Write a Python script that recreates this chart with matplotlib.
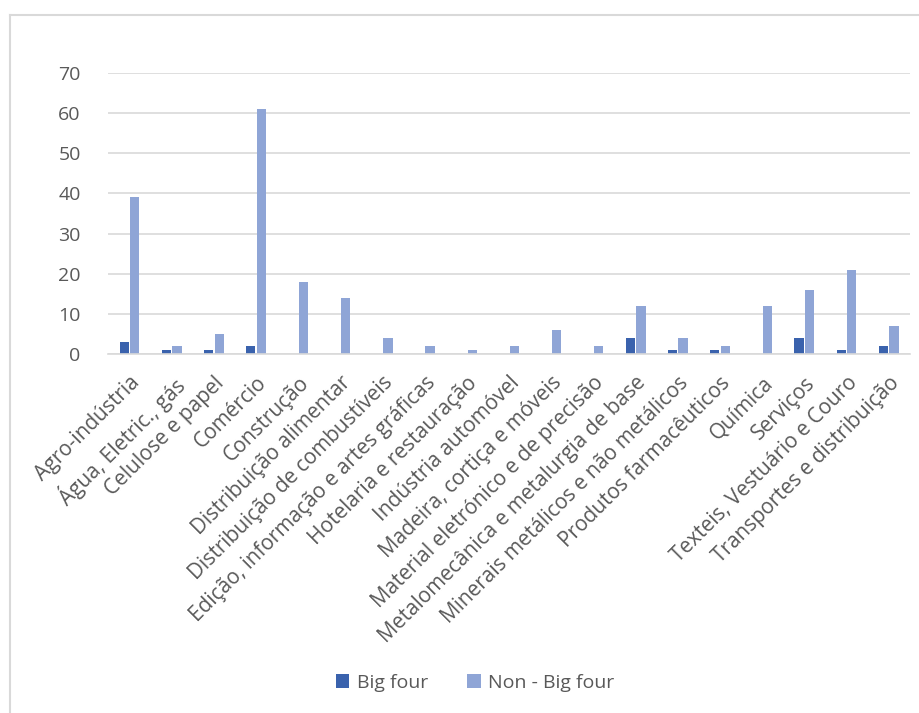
import numpy as np
import matplotlib.pyplot as plt
from matplotlib.lines import Line2D

# setores de atividade
setores = [
    "Agro-indústria", "Água, Eletric., gás", "Celulose e papel", "Comércio",
    "Construção", "Distribuição alimentar", "Distribuição de combustíveis",
    "Edição, informação e artes gráficas", "Hotelaria e restauração",
    "Indústria automóvel", "Madeira, cortiça e móveis",
    "Material eletrónico e de precisão", "Metalomecânica e metalurgia de base",
    "Minerais metálicos e não metálicos", "Produtos farmacêuticos", "Química",
    "Serviços", "Texteis, Vestuário e Couro", "Transportes e distribuição",
]
big_four = [3, 1, 1, 2, 0, 0, 0, 0, 0, 0, 0, 0, 4, 1, 1, 0, 4, 1, 2]
non_big_four = [39, 2, 5, 61, 18, 14, 4, 2, 1, 2, 6, 2, 12, 4, 2, 12, 16, 21, 7]
y_ticks = [0, 10, 20, 30, 40, 50, 60, 70]

cor_big = "#3A62AD"
cor_non = "#8FA5D6"
cor_texto = "#595959"

plt.rcParams['font.family'] = ['Open Sans', 'DejaVu Sans']

fig = plt.figure(figsize=(9.19, 7.13), dpi=100)
ax = fig.add_axes([0.118, 0.503, 0.872, 0.395])

x = np.arange(len(setores))
w = 0.22
ax.bar(x - 0.125, big_four, width=w, color=cor_big, label="Big four")
ax.bar(x + 0.125, non_big_four, width=w, color=cor_non, label="Non - Big four")

ax.set_xlim(-0.5, len(setores) - 0.5)
ax.set_ylim(0, 70)
ax.set_yticks(y_ticks)
ax.yaxis.grid(True, color="#D9D9D9", linewidth=1.2)
ax.set_axisbelow(True)
for s in ["top", "right", "left"]:
    ax.spines[s].set_visible(False)
ax.spines["bottom"].set_color("#D9D9D9")
ax.spines["bottom"].set_linewidth(1.2)
ax.tick_params(axis="both", length=0, colors=cor_texto, labelsize=14)
ax.tick_params(axis="y", pad=20)

ax.set_xticks(x)
ax.set_xticklabels(setores, rotation=45, ha="right", rotation_mode="anchor", fontsize=15)
ax.tick_params(axis="x", pad=13)

fig.legend(loc="center", bbox_to_anchor=(0.517, 0.042), ncol=2, frameon=False,
           fontsize=14, handlelength=0.7, handleheight=0.7, columnspacing=2.0,
           handletextpad=0.4, labelcolor=cor_texto)

# moldura do gráfico
fig.add_artist(Line2D([9.5 / 919, 9.5 / 919], [0, 1 - 15 / 713], color="#D9D9D9",
                      linewidth=1.5, transform=fig.transFigure))
fig.add_artist(Line2D([9.5 / 919, 1], [1 - 15 / 713, 1 - 15 / 713], color="#D9D9D9",
                      linewidth=1.5, transform=fig.transFigure))

fig.savefig("out.png", dpi=100)
